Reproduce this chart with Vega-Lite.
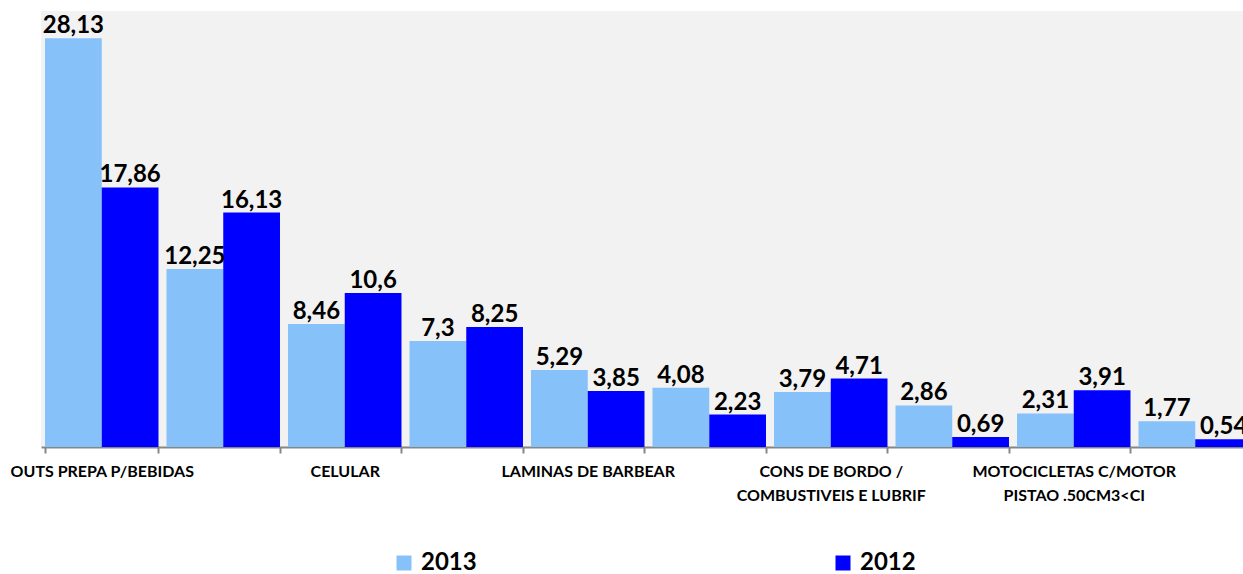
{
  "$schema": "https://vega.github.io/schema/vega-lite/v6.json",
  "width": 1202,
  "height": 436,
  "autosize": {"type": "none"},
  "padding": {"left": 41, "top": 11, "right": 0, "bottom": 127},
  "background": "white",
  "config": {
    "view": {"fill": "#f2f2f2", "stroke": null},
    "font": "Lato",
    "locale": {"number": {"decimal": ",", "thousands": ".", "grouping": [3], "currency": ["R$", ""]}}
  },
  "data": {
    "values": [
      {"pos": 1, "ano": "2013", "valor": 28.13},
      {"pos": 1, "ano": "2012", "valor": 17.86},
      {"pos": 2, "ano": "2013", "valor": 12.25},
      {"pos": 2, "ano": "2012", "valor": 16.13},
      {"pos": 3, "ano": "2013", "valor": 8.46},
      {"pos": 3, "ano": "2012", "valor": 10.6},
      {"pos": 4, "ano": "2013", "valor": 7.3},
      {"pos": 4, "ano": "2012", "valor": 8.25},
      {"pos": 5, "ano": "2013", "valor": 5.29},
      {"pos": 5, "ano": "2012", "valor": 3.85},
      {"pos": 6, "ano": "2013", "valor": 4.08},
      {"pos": 6, "ano": "2012", "valor": 2.23},
      {"pos": 7, "ano": "2013", "valor": 3.79},
      {"pos": 7, "ano": "2012", "valor": 4.71},
      {"pos": 8, "ano": "2013", "valor": 2.86},
      {"pos": 8, "ano": "2012", "valor": 0.69},
      {"pos": 9, "ano": "2013", "valor": 2.31},
      {"pos": 9, "ano": "2012", "valor": 3.91},
      {"pos": 10, "ano": "2013", "valor": 1.77},
      {"pos": 10, "ano": "2012", "valor": 0.54}
    ]
  },
  "encoding": {
    "x": {
      "field": "pos",
      "type": "ordinal",
      "scale": {"range": [0, 1215], "paddingInner": 0.066, "paddingOuter": 0.033},
      "axis": {
        "title": null,
        "labelAngle": 0,
        "domainColor": "#868686",
        "domainWidth": 2,
        "tickColor": "#868686",
        "tickWidth": 2,
        "tickSize": 6,
        "tickBand": "extent",
        "labelFontSize": 16,
        "labelFontWeight": "bold",
        "labelColor": "black",
        "labelPadding": 10,
        "labelLineHeight": 24,
        "labelLimit": 0,
        "labelOverlap": false,
        "labelExpr": "datum.value == 1 ? 'OUTS PREPA P/BEBIDAS' : datum.value == 3 ? 'CELULAR' : datum.value == 5 ? 'LAMINAS DE BARBEAR' : datum.value == 7 ? ['CONS DE BORDO /', 'COMBUSTIVEIS E LUBRIF'] : datum.value == 9 ? ['MOTOCICLETAS C/MOTOR', 'PISTAO .50CM3<CI'] : ''"
      }
    },
    "xOffset": {
      "field": "ano",
      "type": "nominal",
      "sort": ["2013", "2012"],
      "scale": {"paddingInner": 0, "paddingOuter": 0}
    },
    "y": {
      "field": "valor",
      "type": "quantitative",
      "scale": {"domain": [0, 30], "nice": false},
      "axis": null
    }
  },
  "layer": [
    {
      "mark": {"type": "bar"},
      "encoding": {
        "color": {
          "field": "ano",
          "type": "nominal",
          "scale": {"domain": ["2013", "2012"], "range": ["#86c1fa", "#0000ff"]},
          "legend": {
            "orient": "none",
            "legendX": 351,
            "legendY": 540,
            "direction": "horizontal",
            "title": null,
            "symbolType": "square",
            "symbolSize": 225,
            "symbolStrokeWidth": 0,
            "symbolOpacity": 1,
            "labelFontSize": 24,
            "labelFontWeight": "bold",
            "labelColor": "black",
            "columnPadding": 354,
            "labelOffset": 5,
            "padding": 0
          }
        }
      }
    },
    {
      "mark": {"type": "text", "baseline": "alphabetic", "dy": -5, "fontSize": 24, "fontWeight": "bold", "color": "black"},
      "encoding": {
        "text": {"field": "valor", "type": "quantitative", "format": ".4~r"}
      }
    }
  ]
}
